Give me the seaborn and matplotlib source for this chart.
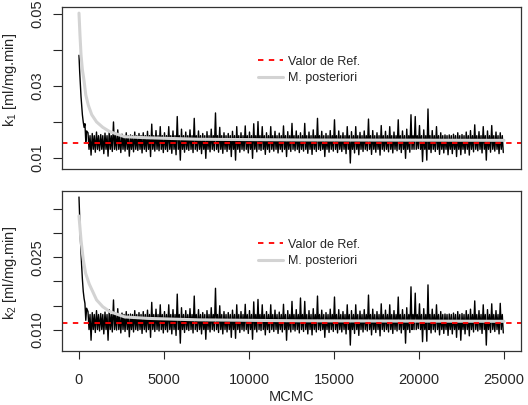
import matplotlib
matplotlib.use("Agg")
import matplotlib.pyplot as plt
import seaborn as sns
import pandas as pd

# --- burn-in (first iterations), values in 1e-3 ml/mg.min ---
burn_it = [0, 40, 80, 120, 160, 200, 250, 300, 350, 400, 450]
burn_k1 = [38.5, 34.0, 30.5, 27.0, 24.5, 22.0, 20.0, 18.5, 19.5, 14.5, 17.5]
burn_k2 = [37.4, 33.0, 29.0, 26.0, 23.0, 20.5, 18.0, 16.5, 15.5, 12.0, 14.5]

# --- trace envelope, bins of 250 iterations from 500 to 25000 (1e-3 units) ---
hi_k1 = [17.0, 16.8, 17.2, 16.5, 16.9, 17.5, 20.0, 17.8, 16.6, 17.0,
         16.4, 17.2, 16.8, 17.0, 17.4, 19.4, 17.6, 18.7, 17.0, 18.7,
         17.5, 21.5, 18.0, 17.2, 17.8, 21.0, 17.5, 16.8, 17.3, 18.0,
         22.5, 18.5, 17.0, 16.8, 17.4, 18.7, 17.0, 18.9, 17.2, 19.5,
         20.1, 18.7, 17.0, 18.7, 17.4, 16.9, 18.9, 17.3, 19.6, 17.5,
         17.0, 19.6, 17.2, 17.8, 21.0, 17.4, 16.8, 17.6, 20.6, 17.5,
         17.0, 18.7, 17.3, 18.7, 17.1, 17.5, 20.8, 17.6, 17.0, 19.0,
         17.4, 18.7, 17.2, 20.6, 17.5, 18.0, 22.0, 21.5, 19.0, 17.8,
         23.6, 17.6, 18.7, 17.0, 16.4, 16.4, 16.6, 17.0, 16.5, 17.2,
         17.6, 19.2, 17.3, 18.7, 17.5, 19.0, 17.2, 17.0]
lo_k1 = [10.8, 11.6, 12.0, 11.2, 10.5, 11.8, 12.2, 11.5, 11.9, 10.5,
         11.7, 12.1, 11.4, 11.8, 10.4, 11.9, 12.0, 11.5, 11.8, 11.3,
         10.9, 9.4, 11.6, 12.1, 11.5, 11.9, 11.2, 9.9, 11.7, 12.0,
         11.6, 11.3, 11.8, 10.4, 9.4, 11.6, 12.0, 11.4, 9.9, 11.7,
         12.1, 11.0, 11.6, 11.9, 11.4, 11.7, 10.4, 11.8, 12.0, 11.5,
         11.9, 11.3, 11.0, 11.8, 12.1, 10.4, 11.6, 11.9, 11.5, 11.8,
         11.2, 8.6, 11.4, 10.9, 11.8, 12.0, 11.0, 11.6, 10.8, 11.9,
         11.7, 11.4, 12.0, 11.5, 9.9, 11.6, 12.4, 12.6, 9.0, 9.4,
         11.5, 11.8, 11.0, 11.4, 10.9, 11.2, 10.4, 10.9, 11.3, 10.8,
         11.7, 12.0, 11.4, 9.4, 11.6, 11.9, 11.2, 11.5]
hi_k2 = [13.8, 13.6, 14.0, 13.4, 13.7, 14.2, 16.2, 14.4, 13.5, 13.8,
         13.3, 14.0, 13.6, 13.8, 14.1, 15.7, 14.3, 15.2, 13.8, 15.2,
         14.2, 17.4, 14.6, 14.0, 14.4, 17.0, 14.2, 13.6, 14.0, 14.6,
         18.6, 15.0, 13.8, 13.6, 14.1, 15.2, 13.8, 15.3, 14.0, 15.8,
         16.3, 15.2, 13.8, 15.2, 14.1, 13.7, 15.3, 14.0, 15.9, 14.2,
         16.6, 15.9, 14.0, 14.4, 17.0, 14.1, 13.6, 14.3, 16.8, 14.2,
         13.8, 15.2, 14.0, 15.2, 13.9, 14.2, 17.2, 14.3, 13.8, 15.4,
         14.1, 15.2, 14.0, 16.8, 14.2, 14.6, 18.9, 17.6, 15.4, 14.4,
         19.3, 14.3, 15.2, 13.8, 13.3, 13.3, 13.5, 13.8, 13.4, 14.0,
         14.3, 16.0, 14.0, 15.2, 14.2, 15.4, 14.0, 15.5]
lo_k2 = [7.9, 9.5, 9.8, 9.2, 7.9, 9.6, 10.0, 9.4, 9.7, 8.6,
         9.6, 9.9, 9.3, 9.6, 8.5, 9.7, 9.8, 9.4, 9.6, 9.2,
         8.9, 7.3, 9.5, 9.9, 9.4, 9.7, 9.2, 8.1, 9.6, 9.8,
         9.5, 9.2, 9.6, 8.5, 8.3, 9.5, 9.8, 9.3, 8.1, 9.6,
         9.9, 9.0, 9.5, 9.7, 9.3, 9.6, 7.9, 9.6, 9.8, 9.4,
         9.7, 9.2, 9.0, 9.6, 9.9, 8.5, 9.5, 9.7, 9.4, 9.6,
         9.2, 6.9, 9.3, 8.9, 9.6, 9.8, 9.0, 9.5, 8.8, 9.7,
         9.6, 9.3, 9.8, 9.4, 7.3, 9.5, 10.1, 10.3, 7.6, 7.7,
         9.4, 9.6, 9.0, 9.3, 8.9, 9.2, 8.5, 7.9, 9.2, 8.8,
         9.6, 9.8, 9.3, 6.9, 9.5, 9.7, 9.2, 9.4]

# typical edges of the dense core of the trace (1e-3 units)
core_k1 = (16.2, 12.4)
core_k2 = (13.2, 10.1)

# --- posterior mean (gray curve) ---
post_it = [0, 60, 120, 200, 290, 400, 545, 750, 1035, 1400, 1813, 2690, 4035, 7000, 13000, 25000]
post_k1 = [50.2, 44.0, 38.6, 34.5, 31.7, 27.5, 24.7, 22.0, 20.0, 18.5, 17.3, 15.9, 15.6, 15.2, 15.0, 14.9]
post_it2 = [0, 120, 250, 390, 600, 1035, 1400, 1813, 2690, 4035, 7000, 13000, 25000]
post_k2 = [33.5, 28.5, 24.5, 21.7, 19.5, 16.2, 14.8, 13.8, 12.7, 12.4, 12.1, 11.9, 11.8]

ref_k1 = 0.0142
ref_k2 = 0.0115


def trace_frame(burn_vals, hi, lo, core):
    its = list(burn_it)
    vals = list(burn_vals)
    for i in range(len(hi)):
        start = 500 + 250 * i
        its += [start + 30, start + 90, start + 150, start + 210]
        vals += [hi[i], core[1], core[0], lo[i]]
    return pd.DataFrame({"it": its, "val": [v / 1000 for v in vals]})


sns.set_style("white")
plt.rcParams["font.family"] = ["Liberation Sans", "DejaVu Sans"]
plt.rcParams["mathtext.fontset"] = "custom"
plt.rcParams["mathtext.rm"] = "Liberation Sans"
plt.rcParams["mathtext.it"] = "Liberation Sans:italic"

fig = plt.figure(figsize=(5.28, 4.05), dpi=100)
ax1 = fig.add_axes([0.1174, 0.5827, 0.8693, 0.400])
ax2 = fig.add_axes([0.1174, 0.1333, 0.8693, 0.3958])

panels = [
    (ax1, trace_frame(burn_k1, hi_k1, lo_k1, core_k1), post_it, post_k1, ref_k1,
     r"k$_1$ [ml/mg.min]", (0.00694, 0.0519), [0.01, 0.02, 0.03, 0.04, 0.05],
     ["0.01", "", "0.03", "", "0.05"], 0.55),
    (ax2, trace_frame(burn_k2, hi_k2, lo_k2, core_k2), post_it2, post_k2, ref_k2,
     r"k$_2$ [ml/mg.min]", (0.00568, 0.0387), [0.010, 0.015, 0.020, 0.025, 0.030, 0.035],
     ["0.010", "", "", "0.025", "", ""], 0.49),
]

for ax, df, p_it, p_val, ref, ylab, ylim, yt, ytl, ylab_y in panels:
    sns.lineplot(data=df, x="it", y="val", ax=ax, color="black", lw=1.0,
                 sort=False, estimator=None)
    sns.lineplot(x=p_it, y=[v / 1000 for v in p_val], ax=ax, color="#d3d3d3",
                 lw=2.2, label="M. posteriori", sort=False, estimator=None)
    ax.axhline(ref, color="red", lw=1.3, ls=(0, (3, 3)), label="Valor de Ref.")
    ax.set_xlim(-1000, 26000)
    ax.set_ylim(*ylim)
    ax.set_yticks(yt)
    ax.set_yticklabels(ytl, rotation=90, va="center")
    ax.set_ylabel(ylab, fontsize=10.5, va="center")
    ax.yaxis.set_label_coords(-0.113, ylab_y)
    ax.tick_params(axis="y", direction="out", length=6.5, width=0.8, labelsize=10.5, pad=6, left=True)
    for s in ax.spines.values():
        s.set_color("#333333")
        s.set_linewidth(0.9)
    handles, labels = ax.get_legend_handles_labels()
    order = [labels.index("Valor de Ref."), labels.index("M. posteriori")]
    ax.legend([handles[k] for k in order], [labels[k] for k in order],
              loc="upper left", bbox_to_anchor=(0.427, 0.70), frameon=False,
              fontsize=9, handlelength=2.0, handletextpad=0.4, labelspacing=0.36,
              borderpad=0, borderaxespad=0)

ax1.set_xlabel("")
ax1.set_xticks([])
ax2.set_xticks([0, 5000, 10000, 15000, 20000, 25000])
ax2.set_xticklabels(["0", "5000", "10000", "15000", "20000", "25000"])
ax2.tick_params(axis="x", direction="out", length=6, width=0.8, labelsize=10.5, pad=10, bottom=True)
ax2.set_xlabel("MCMC", fontsize=10.5, labelpad=2)

plt.savefig("out.png", dpi=100)
